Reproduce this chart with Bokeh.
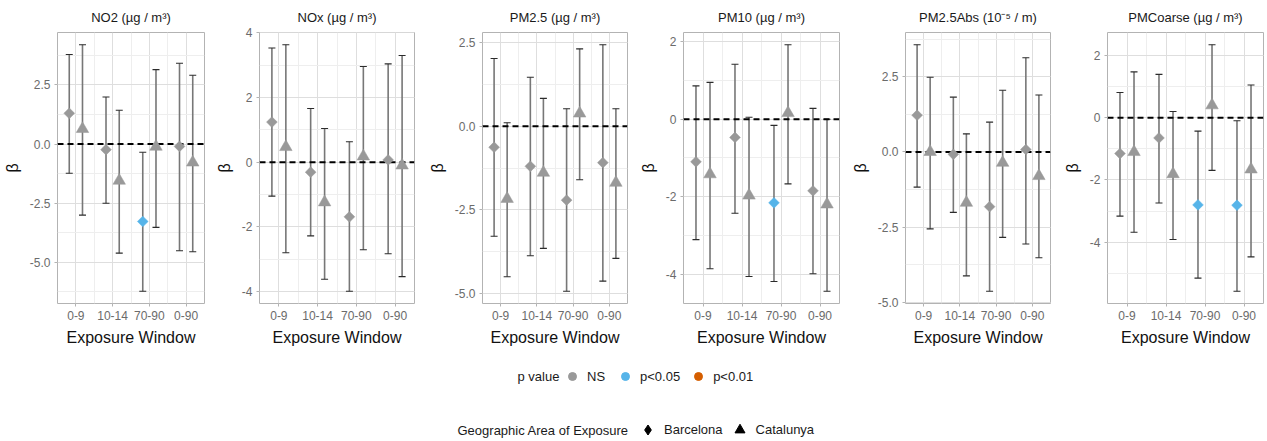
import numpy as np
from bokeh.plotting import figure
from bokeh.models import (ColumnDataSource, Range1d, FixedTicker, SingleIntervalTicker,
                          PrintfTickFormatter, Whisker, TeeHead, Span, Legend, LegendItem, Label)
from bokeh.layouts import column, row
from bokeh.transform import factor_cmap
from bokeh.embed import file_html
from bokeh.resources import INLINE

# ---------------- data ----------------
windows = ["0-9", "10-14", "70-90", "0-90"]
pollutants = ["NO2 (µg / m³)", "NOx (µg / m³)", "PM2.5 (µg / m³)",
              "PM10 (µg / m³)", "PM2.5Abs (10⁻⁵ / m)", "PMCoarse (µg / m³)"]
areas = ["Barcelona", "Catalunya"]
p_levels = ["NS", "p<0.05", "p<0.01"]
p_colors = ["#999999", "#56B4E9", "#D55E00"]
p_legend_title = "p value"
area_legend_title = "Geographic Area of Exposure"

no2_bcn_est = [1.30, -0.24, -3.28, -0.10]
no2_bcn_lo = [-1.24, -2.51, -6.23, -4.52]
no2_bcn_hi = [3.79, 1.99, -0.35, 3.42]
no2_bcn_p = ["NS", "NS", "p<0.05", "NS"]
no2_cat_est = [0.64, -1.55, -0.11, -0.78]
no2_cat_lo = [-3.01, -4.62, -3.53, -4.56]
no2_cat_hi = [4.20, 1.43, 3.15, 2.91]
no2_cat_p = ["NS", "NS", "NS", "NS"]

nox_bcn_est = [1.24, -0.31, -1.69, 0.07]
nox_bcn_lo = [-1.05, -2.28, -3.99, -2.83]
nox_bcn_hi = [3.53, 1.66, 0.63, 3.04]
nox_bcn_p = ["NS", "NS", "NS", "NS"]
nox_cat_est = [0.47, -1.24, 0.18, -0.10]
nox_cat_lo = [-2.80, -3.62, -2.71, -3.54]
nox_cat_hi = [3.63, 1.04, 2.96, 3.30]
nox_cat_p = ["NS", "NS", "NS", "NS"]

pm25_bcn_est = [-0.63, -1.20, -2.21, -1.09]
pm25_bcn_lo = [-3.29, -3.87, -4.93, -4.63]
pm25_bcn_hi = [2.02, 1.46, 0.52, 2.43]
pm25_bcn_p = ["NS", "NS", "NS", "NS"]
pm25_cat_est = [-2.17, -1.39, 0.38, -1.69]
pm25_cat_lo = [-4.50, -3.65, -1.60, -3.95]
pm25_cat_hi = [0.10, 0.83, 2.31, 0.52]
pm25_cat_p = ["NS", "NS", "NS", "NS"]

pm10_bcn_est = [-1.10, -0.47, -2.16, -1.85]
pm10_bcn_lo = [-3.11, -2.43, -4.19, -3.99]
pm10_bcn_hi = [0.86, 1.42, -0.16, 0.28]
pm10_bcn_p = ["NS", "NS", "p<0.05", "NS"]
pm10_cat_est = [-1.42, -1.97, 0.16, -2.20]
pm10_cat_lo = [-3.86, -4.06, -1.67, -4.44]
pm10_cat_hi = [0.95, 0.05, 1.92, 0.00]
pm10_cat_p = ["NS", "NS", "NS", "NS"]

abs_bcn_est = [1.22, -0.08, -1.82, 0.08]
abs_bcn_lo = [-1.17, -2.01, -4.63, -3.06]
abs_bcn_hi = [3.56, 1.82, 0.99, 3.13]
abs_bcn_p = ["NS", "NS", "NS", "NS"]
abs_cat_est = [0.00, -1.69, -0.36, -0.80]
abs_cat_lo = [-2.56, -4.12, -2.84, -3.52]
abs_cat_hi = [2.48, 0.60, 2.05, 1.89]
abs_cat_p = ["NS", "NS", "NS", "NS"]

pmc_bcn_est = [-1.15, -0.65, -2.80, -2.81]
pmc_bcn_lo = [-3.16, -2.74, -5.15, -5.57]
pmc_bcn_hi = [0.81, 1.39, -0.43, -0.10]
pmc_bcn_p = ["NS", "NS", "p<0.05", "p<0.05"]
pmc_cat_est = [-1.10, -1.81, 0.40, -1.66]
pmc_cat_lo = [-3.68, -3.91, -1.69, -4.47]
pmc_cat_hi = [1.47, 0.20, 2.34, 1.05]
pmc_cat_p = ["NS", "NS", "NS", "NS"]

y_steps = [2.5, 2, 2.5, 2, 2.5, 2]
y_formats = ["%.1f", "%d", "%.1f", "%d", "%.1f", "%d"]

panel_data = [
    ((no2_bcn_est, no2_bcn_lo, no2_bcn_hi, no2_bcn_p), (no2_cat_est, no2_cat_lo, no2_cat_hi, no2_cat_p)),
    ((nox_bcn_est, nox_bcn_lo, nox_bcn_hi, nox_bcn_p), (nox_cat_est, nox_cat_lo, nox_cat_hi, nox_cat_p)),
    ((pm25_bcn_est, pm25_bcn_lo, pm25_bcn_hi, pm25_bcn_p), (pm25_cat_est, pm25_cat_lo, pm25_cat_hi, pm25_cat_p)),
    ((pm10_bcn_est, pm10_bcn_lo, pm10_bcn_hi, pm10_bcn_p), (pm10_cat_est, pm10_cat_lo, pm10_cat_hi, pm10_cat_p)),
    ((abs_bcn_est, abs_bcn_lo, abs_bcn_hi, abs_bcn_p), (abs_cat_est, abs_cat_lo, abs_cat_hi, abs_cat_p)),
    ((pmc_bcn_est, pmc_bcn_lo, pmc_bcn_hi, pmc_bcn_p), (pmc_cat_est, pmc_cat_lo, pmc_cat_hi, pmc_cat_p)),
]

# ---------------- style ----------------
FONT = "Liberation Sans"
fig_widths = [211, 211, 211, 211, 211, 212]
border_left = [57, 48, 60, 50, 61, 52]
border_right = [7, 8, 6, 5, 5, 4]
FIG_H = 352
DODGE = 0.18
markers = ["square", "triangle"]
marker_sizes = [7.6, 12.5]
marker_angles = [np.pi / 4, 0.0]
legend_markers = ["diamond", "triangle"]

figs = []
for k, (title, (bcn, cat)) in enumerate(zip(pollutants, panel_data)):
    all_vals = list(bcn[1]) + list(bcn[2]) + list(cat[1]) + list(cat[2])
    vmin, vmax = min(all_vals), max(all_vals)
    pad = 0.05 * (vmax - vmin)
    p = figure(width=fig_widths[k], height=FIG_H,
               x_range=Range1d(0.5, 4.5), y_range=Range1d(vmin - pad, vmax + pad),
               output_backend="svg", toolbar_location=None, title=title,
               min_border_left=border_left[k], min_border_right=border_right[k],
               min_border_top=32, min_border_bottom=49)
    p.title.align = "center"
    p.title.text_font = FONT
    p.title.text_font_size = "13px"
    p.title.text_font_style = "normal"
    p.title.text_color = "#1a1a1a"
    p.title.standoff = 15
    p.outline_line_color = "#b3b3b3"
    p.outline_line_width = 1
    p.background_fill_color = "white"
    p.border_fill_color = "white"

    p.xaxis.ticker = FixedTicker(ticks=[1, 2, 3, 4], minor_ticks=[1.5, 2.5, 3.5])
    p.xaxis.major_label_overrides = {i + 1: w for i, w in enumerate(windows)}
    p.xaxis.axis_label = "Exposure Window"
    p.yaxis.ticker = SingleIntervalTicker(interval=y_steps[k], num_minor_ticks=2)
    p.yaxis.formatter = PrintfTickFormatter(format=y_formats[k])
    p.yaxis.axis_label = "β"
    for ax in (p.xaxis[0], p.yaxis[0]):
        ax.axis_line_color = None
        ax.major_tick_line_color = "#b3b3b3"
        ax.major_tick_out = 3
        ax.major_tick_in = 0
        ax.minor_tick_line_color = None
        ax.major_label_text_font = FONT
        ax.major_label_text_font_size = "12px"
        ax.major_label_text_color = "#6b6b6b"
        ax.major_label_standoff = 3
        ax.axis_label_text_font = FONT
        ax.axis_label_text_font_size = "16px"
        ax.axis_label_text_font_style = "normal"
        ax.axis_label_text_color = "#111111"
        ax.axis_label_standoff = 6
    for g in (p.xgrid[0], p.ygrid[0]):
        g.grid_line_color = "#dedede"
        g.grid_line_width = 1
        g.minor_grid_line_color = "#eeeeee"
        g.minor_grid_line_width = 1

    for a, (est, lo, hi, pv) in enumerate((bcn, cat)):
        off = -DODGE if a == 0 else DODGE
        src = ColumnDataSource(dict(
            x=[i + 1 + off for i in range(len(windows))],
            est=est, lo=lo, hi=hi, p=pv, window=windows))
        w = Whisker(source=src, base="x", upper="hi", lower="lo", dimension="height",
                    line_color="#777777", line_width=1.6,
                    upper_head=TeeHead(size=7, line_color="#2b2b2b", line_width=1.1),
                    lower_head=TeeHead(size=7, line_color="#2b2b2b", line_width=1.1))
        p.add_layout(w)

    hline = Span(location=0, dimension="width", line_color="black", line_width=2,
                 line_dash="6 4", level="underlay")
    p.add_layout(hline)

    for a, (est, lo, hi, pv) in enumerate((bcn, cat)):
        off = -DODGE if a == 0 else DODGE
        src = ColumnDataSource(dict(
            x=[i + 1 + off for i in range(len(windows))],
            est=est, p=pv))
        p.scatter(x="x", y="est", source=src, marker=markers[a], size=marker_sizes[a],
                  angle=marker_angles[a],
                  fill_color=factor_cmap("p", p_colors, p_levels),
                  line_color=factor_cmap("p", p_colors, p_levels), line_width=0.5)
    figs.append(p)

# ---------------- legends ----------------
LEG_H = 89
lf = figure(width=sum(fig_widths), height=LEG_H, x_range=Range1d(0, 1), y_range=Range1d(0, 1),
            output_backend="svg", toolbar_location=None, min_border=0,
            x_axis_type=None, y_axis_type=None, outline_line_color=None)
lf.grid.visible = False

p_items = []
for lvl, col in zip(p_levels, p_colors):
    r = lf.scatter(x=[-10], y=[-10], marker="circle", size=8, fill_color=col, line_color=col)
    p_items.append(LegendItem(label=lvl, renderers=[r]))
area_items = []
for a, name in enumerate(areas):
    r = lf.scatter(x=[-10], y=[-10], marker=legend_markers[a],
                   size=8, fill_color="black", line_color="black")
    area_items.append(LegendItem(label=name, renderers=[r]))


def style_legend(leg):
    leg.orientation = "horizontal"
    leg.label_text_font = FONT
    leg.label_text_font_size = "13px"
    leg.label_text_color = "#1a1a1a"
    leg.border_line_color = None
    leg.background_fill_alpha = 0
    leg.padding = 0
    leg.margin = 0
    leg.label_width = 20


leg1 = Legend(items=p_items, location=(562, 55))
style_legend(leg1)
leg1.glyph_width = 20
leg1.glyph_height = 20
leg1.label_standoff = 5
leg1.spacing = 8
leg2 = Legend(items=area_items, location=(635, -1))
style_legend(leg2)
leg2.glyph_width = 25
leg2.glyph_height = 25
leg2.label_standoff = 4
leg2.spacing = 4
lf.add_layout(leg1)
lf.add_layout(leg2)

for txt, xx, yy in ((p_legend_title, 517, 65), (area_legend_title, 457, 11)):
    lf.add_layout(Label(x=xx, y=yy, x_units="screen", y_units="screen", text=txt,
                        text_baseline="middle", text_align="left", text_font=FONT,
                        text_font_size="13px", text_color="#1a1a1a"))

layout = column(row(*figs, spacing=0), lf, spacing=0)
open("out.html", "w").write(file_html(layout, INLINE))
